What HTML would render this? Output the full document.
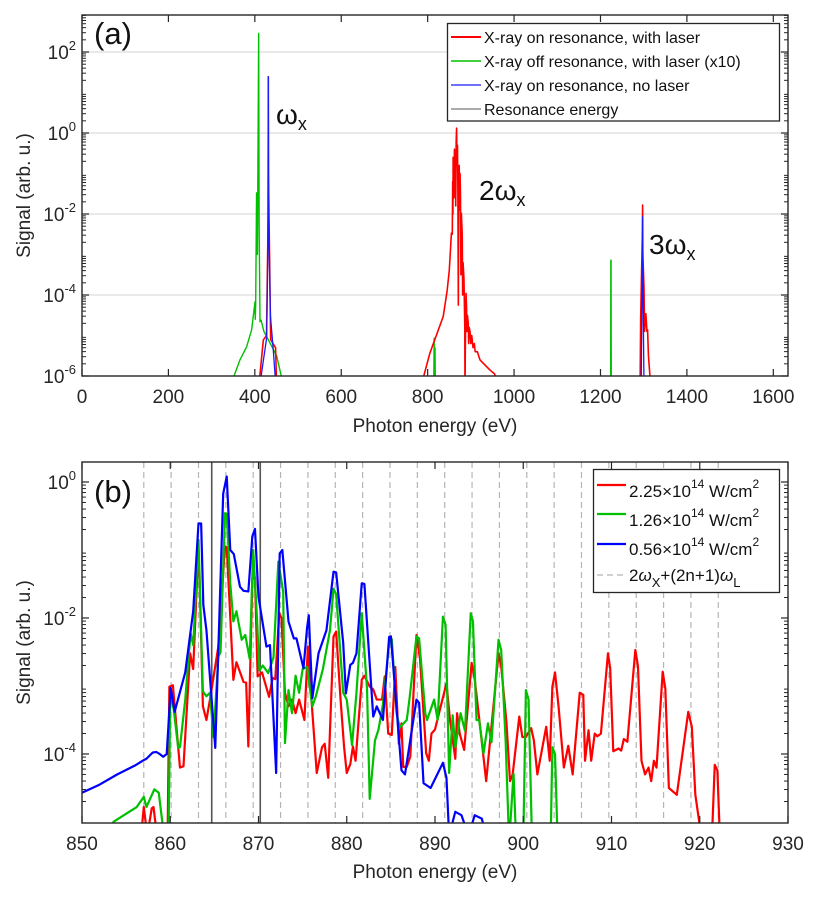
<!DOCTYPE html>
<html><head><meta charset="utf-8"><style>
html,body{margin:0;padding:0;background:#fff;}
svg{display:block;font-family:"Liberation Sans",sans-serif;}
</style></head><body>
<svg id="fig" width="831" height="897" viewBox="0 0 831 897" xmlns="http://www.w3.org/2000/svg">
<defs>
<clipPath id="clipA"><rect x="82" y="15" width="706" height="361"/></clipPath>
<clipPath id="clipB"><rect x="82" y="462" width="706" height="361"/></clipPath>
</defs>
<g id="panelA"></g>
<g id="panelB"></g>
</svg>
<script>
// ---------- Panel (a) data ----------
const aXTicks=[0,200,400,600,800,1000,1200,1400,1600];
const aYTicks=[2,0,-2,-4,-6];
const aRedE=[407,419.7,427,431,431.2,431.5,436.7,442,448,451,778.5,805,836,845,850,855,857,858,858.5,859,859.5,860,861,862,863,864,865,866,867,868,869,870,871,872,873,874,875,876,877,878,880,881,882,884,886,886.4,887,888.8,890,891,892,894,895,896,898,900,902,905,908,910,915,921,930,944,955,967.5,1291.5,1293,1295,1297,1297.5,1298,1300.7,1302,1305,1307.5,1309,1311,1318];
const aRedL=[-6.5,-5.11,-5.0,-2,1.39,-1,-5.1,-5.2,-5.3,-6.5,-6.5,-5.44,-4.53,-3.9,-3.4,-2.47,-2.5,-1.2,-2.0,-0.6,-1.5,-0.7,-1.6,-0.4,-1.3,-0.6,-1.8,-0.2,0.12,-0.8,-0.3,-1.5,-4.25,-1.2,-0.8,-1.9,-1.0,-1.6,-3.5,-1.98,-2.5,-4.0,-3.2,-3.6,-4.8,-6.5,-5.5,-3.96,-4.3,-4.9,-4.5,-4.7,-5.2,-4.8,-4.9,-5.2,-5.0,-5.3,-5.2,-5.4,-5.4,-5.6,-5.7,-5.85,-5.95,-6.5,-6.5,-4.6,-3.5,-2.5,-1.78,-3.0,-3.8,-4.9,-4.46,-4.9,-4.86,-5.5,-6.5];
const aGreenE=[340,351.8,365.7,381,392.6,400.4,401,402,404,406,408.9,410,412,414.4,421,431,450.4,472,800,814,815,816,817,818,820,1210,1223.5,1224,1224.5,1225,1240];
const aGreenL=[-6.5,-6,-5.6,-5.28,-4.86,-4.17,-4.6,-4.2,-1.48,-3,2.46,-2.3,-4.66,-4.62,-4.9,-5.1,-5.5,-6.5,-6.5,-6.5,-5.07,-6,-5.3,-6.5,-6.5,-6.5,-6.5,-3.14,-3.14,-6.5,-6.5];
const aBlueE=[400,408,420,427.4,430,431.2,432,436,442.7,450.4,460,1290,1294,1296,1297.5,1299,1301,1310];
const aBlueL=[-6.5,-6.5,-5.6,-5.06,-3,1.39,-2,-4.5,-5.36,-6.5,-6.5,-6.5,-6.5,-4,-2.07,-4.5,-6.5,-6.5];

// ---------- Panel (b) data ----------
const bXTicks=[850,860,870,880,890,900,910,920,930];
const bYTicks=[0,-2,-4];
const bHarm=[857.0,860.1,863.2,866.3,869.4,872.5,875.6,878.7,881.8,884.9,888.0,891.1,894.2,897.3,900.4,903.5,906.6,909.7,912.8,915.9,919.0,922.1];
const bRes=[864.7,870.2];
const bRedE=[856.7,857.0,857.4,857.9,858.1,858.5,859.7,859.9,860.3,860.7,861.1,861.5,862.25,862.6,863.1,863.3,863.7,864.1,864.5,865.45,866.2,866.4,866.8,867.15,867.5,868.3,868.6,868.85,869.3,869.6,869.9,870.4,871.2,871.6,871.9,872.35,872.6,873.0,873.4,873.8,874.2,874.6,875.2,875.6,876.0,876.6,877.2,877.5,877.9,878.5,878.8,879.3,879.7,880.0,880.4,880.7,881.0,881.7,882.0,882.6,883.0,883.4,884.0,884.3,884.7,885.1,885.5,885.9,886.2,886.4,886.8,887.2,887.9,888.3,889.0,889.3,889.6,890.0,891.3,891.7,892.3,892.5,892.8,893.3,894.15,894.5,895.2,895.8,897.2,897.5,898.1,898.5,898.8,899.55,899.9,900.3,900.9,901.2,901.6,902.6,903.0,903.3,903.6,904.0,904.6,905.1,905.6,906.4,906.8,907.0,907.4,907.7,908.1,908.4,908.8,909.6,909.85,910.2,910.8,911.1,911.4,911.8,912.7,913.0,913.4,913.8,914.2,914.5,914.8,915.1,915.8,916.1,916.5,917.4,918.7,919.1,919.5,920.5,921.3,921.7,922.0,922.3];
const bRedL=[-5.2,-4.78,-5.2,-4.8,-4.78,-5.2,-5.2,-3.01,-2.99,-3.6,-4.2,-4.18,-2.52,-2.75,-1.25,-1.3,-3.3,-3.5,-3.2,-2.42,-0.95,-0.96,-1.98,-2.91,-2.65,-2.94,-2.95,-3.89,-1.42,-1.4,-2.86,-2.8,-3.16,-2.88,-2.9,-1.93,-2.0,-3.1,-3.3,-3.2,-3.4,-3.2,-3.5,-2.42,-3.2,-4.28,-3.9,-3.85,-4.35,-2.27,-2.2,-3.2,-3.9,-4.28,-4.15,-3.89,-4.1,-2.91,-2.85,-3.01,-3.05,-3.2,-3.2,-2.86,-3.7,-3.72,-2.72,-3.85,-3.55,-4.19,-4.19,-4.04,-2.25,-2.6,-3.99,-4.1,-3.7,-3.64,-2.96,-3.5,-4.07,-3.4,-3.7,-3.94,-2.66,-2.9,-3.7,-4.4,-2.52,-2.71,-3.54,-4.4,-4.3,-3.45,-3.75,-3.75,-3.62,-3.8,-4.3,-3.6,-4.1,-3.01,-2.8,-3.3,-4.2,-3.88,-4.3,-3.1,-3.13,-4.1,-3.65,-4.1,-3.7,-3.74,-3.7,-2.52,-2.74,-3.96,-3.92,-3.95,-3.78,-3.82,-2.47,-2.71,-4.1,-4.3,-4.2,-4.4,-4.1,-4.2,-2.79,-3.04,-4.5,-4.6,-3.38,-3.6,-4.6,-5.5,-5.5,-4.16,-4.24,-5.3];
const bGreenE=[853.3,853.55,856.2,857.0,857.3,858.2,858.7,859.1,859.8,860.0,860.4,860.9,861.1,861.7,862.3,862.6,863.2,863.7,864.1,864.5,864.9,865.45,865.7,866.2,866.4,866.8,867.15,867.5,868.1,868.5,869.0,869.4,869.8,870.1,870.5,871.1,871.7,872.25,872.8,873.0,873.4,873.8,874.2,874.6,875.0,875.5,876.1,876.5,877.3,878.1,878.5,878.8,879.6,880.0,880.6,881.1,881.7,882.3,882.6,883.2,883.6,884.1,884.8,885.1,885.65,886.0,886.8,887.1,887.9,888.2,888.9,889.1,889.9,890.3,890.9,891.2,891.6,892.0,892.3,892.6,892.9,893.4,894.05,894.3,894.7,895.0,895.5,896.0,896.4,897.2,897.5,898.0,898.4,898.9,899.2,900.0,900.3,900.6,901.0,903.1,903.3,903.6,903.9];
const bGreenL=[-5.3,-5.0,-4.78,-4.63,-4.78,-4.52,-4.57,-5.0,-5.3,-3.1,-3.35,-3.91,-3.9,-3.2,-2.22,-2.4,-0.85,-3.08,-3.15,-3.1,-3.75,-2.57,-2.5,-0.46,-0.47,-1.49,-2.05,-1.9,-2.32,-2.25,-2.6,-1.0,-1.93,-2.77,-2.7,-2.81,-2.58,-1.17,-1.62,-3.84,-3.06,-3.4,-2.85,-3.1,-2.75,-2.72,-3.3,-3.15,-2.75,-2.18,-1.57,-1.65,-3.1,-3.2,-3.87,-3.1,-1.93,-3.05,-4.66,-3.8,-3.64,-3.27,-2.38,-2.31,-3.4,-3.61,-3.5,-3.2,-2.27,-2.3,-3.4,-3.5,-3.2,-3.5,-1.98,-2.1,-4.28,-3.43,-3.9,-3.66,-3.4,-3.66,-1.93,-2.05,-3.5,-3.5,-3.99,-3.55,-3.83,-2.32,-2.47,-3.8,-5.3,-4.29,-5.3,-5.3,-3.06,-3.2,-5.3,-5.3,-3.9,-4.0,-5.3];
const bBlueE=[850,852,854,856,857.0,857.3,858.0,858.4,858.8,859.2,859.6,860.05,860.5,861.7,862.3,862.6,863.2,863.5,863.75,864.1,865.1,866.0,866.4,866.8,867.2,867.9,868.3,868.85,869.3,869.6,870.0,870.9,871.3,872.0,872.4,872.7,873.4,874.0,874.3,875.1,875.5,875.7,876.1,876.8,877.7,878.5,878.8,879.6,879.9,880.4,880.7,881.1,881.7,882.0,883.0,883.4,884.1,884.8,885.0,886.2,886.6,887.9,888.2,888.7,889.5,890.9,891.3,891.6,892.3,893.0,893.8,894.5,895.3,896.0];
const bBlueL=[-4.57,-4.45,-4.3,-4.17,-4.09,-4.07,-3.98,-3.97,-4.0,-4.04,-4.0,-3.03,-3.38,-2.8,-2.2,-1.9,-0.61,-0.61,-1.81,-2.18,-3.91,-0.17,0.08,-1.0,-1.06,-1.54,-1.6,-1.61,-0.80,-0.69,-1.69,-2.42,-2.4,-4.28,-1.05,-1.0,-2.05,-2.3,-2.3,-2.74,-2.15,-1.96,-3.18,-2.52,-2.18,-1.32,-1.33,-2.37,-3.11,-2.69,-2.66,-2.52,-1.49,-1.5,-3.45,-3.3,-3.5,-2.28,-2.27,-4.24,-4.3,-3.2,-3.25,-4.43,-4.5,-4.13,-4.35,-5.2,-4.85,-4.9,-5.2,-4.9,-4.95,-5.3];

const NS="http://www.w3.org/2000/svg";
function mk(parent,tag,attrs){const e=document.createElementNS(NS,tag);for(const k in attrs)e.setAttribute(k,attrs[k]);parent.appendChild(e);return e;}

function makeAxis(p){
  p.sx=v=>p.L+(v-p.xmin)/(p.xmax-p.xmin)*(p.R-p.L);
  p.sy=v=>p.T+(p.ymax-v)/(p.ymax-p.ymin)*(p.B-p.T);
  return p;
}
const A=makeAxis({L:82,R:788,T:15,B:376,xmin:0,xmax:1634,ymin:-6,ymax:2.914});
const B=makeAxis({L:82,R:788,T:462,B:823,xmin:850,xmax:930,ymin:-5.015,ymax:0.294});

function series(g,ax,E,Lg,color,w,clip,name){
  const pts=E.map((e,i)=>ax.sx(e).toFixed(2)+','+ax.sy(Lg[i]).toFixed(2)).join(' ');
  const pl=mk(g,'polyline',{points:pts,fill:'none',stroke:color,'stroke-width':w,'stroke-linejoin':'round','clip-path':'url(#'+clip+')'});
  
  
}

function frame(g,ax,xt,yt,grid){
  if(grid){
    yt.forEach(v=>{ if(v>ax.ymin && v<ax.ymax){
      const l=mk(g,'line',{x1:ax.L,x2:ax.R,y1:ax.sy(v),y2:ax.sy(v),stroke:'#dcdcdc','stroke-width':1.2});
      
      
    }});
  }
}
function frameTicks(g,ax,xt,yt,titleY){
  const c='#262626';
  for(let d=Math.floor(ax.ymin);d<=Math.ceil(ax.ymax);d++){
    for(let m=2;m<=9;m++){
      const v=d+Math.log10(m);
      if(v<=ax.ymin||v>=ax.ymax)continue;
      const y=ax.sy(v);
      mk(g,'line',{x1:ax.L,x2:ax.L+4,y1:y,y2:y,stroke:c,'stroke-width':1});
      mk(g,'line',{x1:ax.R,x2:ax.R-4,y1:y,y2:y,stroke:c,'stroke-width':1});
    }
  }
  yt.forEach(v=>{
    const y=ax.sy(v);
    mk(g,'line',{x1:ax.L,x2:ax.L+7,y1:y,y2:y,stroke:c,'stroke-width':1.2});
    mk(g,'line',{x1:ax.R,x2:ax.R-7,y1:y,y2:y,stroke:c,'stroke-width':1.2});
    const t=mk(g,'text',{x:76,y:y+7,'text-anchor':'end','font-size':19,fill:c});
    
    
    t.appendChild(document.createTextNode('10'));
    const s=mk(t,'tspan',{dy:-9,'font-size':13});
    s.textContent=String(v);
  });
  xt.forEach(v=>{
    const x=ax.sx(v);
    mk(g,'line',{x1:x,x2:x,y1:ax.B,y2:ax.B-7,stroke:c,'stroke-width':1.2});
    mk(g,'line',{x1:x,x2:x,y1:ax.T,y2:ax.T+7,stroke:c,'stroke-width':1.2});
    const t=mk(g,'text',{x:x,y:ax.B+27,'text-anchor':'middle','font-size':19,fill:c});
    
    
    t.textContent=String(v);
  });
  const r=mk(g,'rect',{x:ax.L,y:ax.T,width:ax.R-ax.L,height:ax.B-ax.T,fill:'none',stroke:c,'stroke-width':1.4});
  
  
  const xt2=mk(g,'text',{x:435,y:titleY,'text-anchor':'middle','font-size':19,fill:c});
  
  
  xt2.textContent='Photon energy (eV)';
  const cy=(ax.T+ax.B)/2;
  const yt2=mk(g,'text',{x:30,y:cy,'text-anchor':'middle','font-size':19,fill:c,transform:'rotate(-90 30 '+cy+')'});
  
  
  yt2.textContent='Signal (arb. u.)';
}

const gA=document.getElementById('panelA');
frame(gA,A,aXTicks,aYTicks,true);
series(gA,A,aGreenE,aGreenL,'#00c000',1.4,'clipA','series-off-resonance');
series(gA,A,aRedE,aRedL,'#ff0000',1.6,'clipA','series-on-resonance-laser');
series(gA,A,aBlueE,aBlueL,'#1a1aff',1.3,'clipA','series-no-laser');
frameTicks(gA,A,aXTicks,aYTicks,432);

const gB=document.getElementById('panelB');
bHarm.forEach(v=>{
  const l=mk(gB,'line',{x1:B.sx(v),x2:B.sx(v),y1:B.T,y2:B.B,stroke:'#b5b5b5','stroke-width':1.2,'stroke-dasharray':'6,4'});
  
  
});
bRes.forEach(v=>{
  const l=mk(gB,'line',{x1:B.sx(v),x2:B.sx(v),y1:B.T,y2:B.B,stroke:'#555','stroke-width':1.6});
  
  
});
series(gB,B,bRedE,bRedL,'#ff0000',2.2,'clipB','series-2.25e14');
series(gB,B,bGreenE,bGreenL,'#00c000',2.2,'clipB','series-1.26e14');
series(gB,B,bBlueE,bBlueL,'#0000ff',2.2,'clipB','series-0.56e14');
frameTicks(gB,B,bXTicks,bYTicks,878);
</script>
<svg style="position:absolute;left:0;top:0" width="831" height="897" viewBox="0 0 831 897" xmlns="http://www.w3.org/2000/svg" font-family="Liberation Sans, sans-serif">
  <text x="94" y="44" font-size="31" fill="#111">(a)</text>
  <text x="94" y="502" font-size="31" fill="#111">(b)</text>
  <text x="276" y="124" font-size="28" fill="#111">ω<tspan dy="6" font-size="18">x</tspan></text>
  <text x="479" y="200" font-size="28" fill="#111">2ω<tspan dy="6" font-size="18">x</tspan></text>
  <text x="649" y="254" font-size="28" fill="#111">3ω<tspan dy="6" font-size="18">x</tspan></text>
  <g>
    <rect x="447.5" y="23.5" width="332" height="97.5" fill="#fff" stroke="#262626" stroke-width="1.3"/>
    <line x1="451" x2="481" y1="37" y2="37" stroke="#ff0000" stroke-width="2"/>
    <text x="484" y="43" font-size="16" fill="#111">X-ray on resonance, with laser</text>
    <line x1="451" x2="481" y1="61" y2="61" stroke="#00c000" stroke-width="1.5"/>
    <text x="484" y="67" font-size="16" fill="#111">X-ray off resonance, with laser (x10)</text>
    <line x1="451" x2="481" y1="85" y2="85" stroke="#1a1aff" stroke-width="1.3"/>
    <text x="484" y="91" font-size="16" fill="#111">X-ray on resonance, no laser</text>
    <line x1="451" x2="481" y1="109" y2="109" stroke="#777" stroke-width="1.3"/>
    <text x="484" y="115" font-size="16" fill="#111">Resonance energy</text>
  </g>
  <g>
    <rect x="593.5" y="469.5" width="186" height="123" fill="#fff" stroke="#262626" stroke-width="1.3"/>
    <line x1="597" x2="626" y1="485" y2="485" stroke="#ff0000" stroke-width="2.2"/>
    <text x="629" y="497" font-size="17" fill="#111">2.25×10<tspan dy="-9" font-size="12">14</tspan><tspan dy="9"> W/cm</tspan><tspan dy="-9" font-size="12">2</tspan></text>
    <line x1="597" x2="626" y1="514" y2="514" stroke="#00c000" stroke-width="2.2"/>
    <text x="629" y="526" font-size="17" fill="#111">1.26×10<tspan dy="-9" font-size="12">14</tspan><tspan dy="9"> W/cm</tspan><tspan dy="-9" font-size="12">2</tspan></text>
    <line x1="597" x2="626" y1="544" y2="544" stroke="#0000ff" stroke-width="2.2"/>
    <text x="629" y="555" font-size="17" fill="#111">0.56×10<tspan dy="-9" font-size="12">14</tspan><tspan dy="9"> W/cm</tspan><tspan dy="-9" font-size="12">2</tspan></text>
    <line x1="597" x2="626" y1="575" y2="575" stroke="#b5b5b5" stroke-width="1.2" stroke-dasharray="6,4"/>
    <text x="629" y="581" font-size="17" fill="#111">2<tspan font-style="italic">ω</tspan><tspan dy="6" font-size="13">X</tspan><tspan dy="-6">+(2n+1)</tspan><tspan font-style="italic">ω</tspan><tspan dy="6" font-size="13">L</tspan></text>
  </g>
</svg>
</body></html>
